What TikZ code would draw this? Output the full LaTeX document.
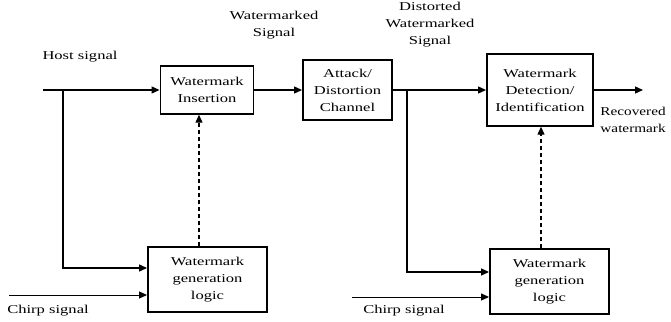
\documentclass[tikz,border=0pt]{standalone}
\usepackage{fontspec}
\setmainfont{Liberation Serif}
\usetikzlibrary{arrows.meta}

\begin{document}
\begin{tikzpicture}[
  x = 1pt, y = -1pt,
  every node/.style = {font=\fontsize{12}{17}\selectfont, xscale=1.38, text=black},
  caixa/.style = {draw, line width=1.4pt, align=center, inner sep=1pt},
  seta/.style = {line width=1.3pt, -{Triangle[length=8pt,width=7pt]}},
  tracejado/.style = {line width=1.2pt, dash pattern=on 4pt off 3pt}
]
\useasboundingbox (0,0) rectangle (671,321);

% blocos
\node[caixa, minimum width=93/1.38, minimum height=48] (ins) at (207,90) {Watermark\\Insertion};
\node[caixa, minimum width=89/1.38, minimum height=60] (att) at (347.5,90) {Attack/\\Distortion\\Channel};
\node[caixa, minimum width=106/1.38, minimum height=72] (det) at (540,90) {Watermark\\Detection/\\Identification};
\node[caixa, minimum width=119/1.38, minimum height=65] (gen1) at (207.5,279.5) {Watermark\\generation\\logic};
\node[caixa, minimum width=119/1.38, minimum height=65] (gen2) at (549.5,281.5) {Watermark\\generation\\logic};

% rotulos
\node[align=center] (host) at (80,57) {Host signal};
\node[align=center] (wms) at (274,25) {Watermarked\\Signal};
\node[align=center] (dws) at (430,25) {Distorted\\Watermarked\\Signal};
\node[align=left, anchor=west, xscale=0.92] (rec) at (596,120) {Recovered\\watermark};
\node (chirp1) at (48,311) {Chirp signal};
\node (chirp2) at (404,311) {Chirp signal};

\coordinate (hs) at (43,90);
\coordinate (b1) at (63,90);
\coordinate (b2) at (407,90);
\coordinate (out) at (643,90);
\coordinate (c1) at (9,295);
\coordinate (c2) at (352,297);

% caminho principal
\draw[seta] (hs) -- (ins);
\draw[seta] (ins) -- (att);
\draw[seta] (att) -- (det);
\draw[seta] (det) -- (out);

% ramos para a logica de geracao
\draw[seta] (b1) |- ([yshift=11.5pt]gen1.west);
\draw[seta] (b2) |- ([yshift=9.5pt]gen2.west);
\draw[seta, line width=1pt] (c1) -- (c1 -| gen1.west);
\draw[seta, line width=1pt] (c2) -- (c2 -| gen2.west);

% marca d'agua (tracejado)
\draw[seta, tracejado] ([xshift=-8.5pt]gen1.north) -- ([xshift=-8.5pt]gen1.north |- ins.south);
\draw[seta, tracejado] ([xshift=-8.5pt]gen2.north) -- ([xshift=-8.5pt]gen2.north |- det.south);
\end{tikzpicture}
\end{document}
